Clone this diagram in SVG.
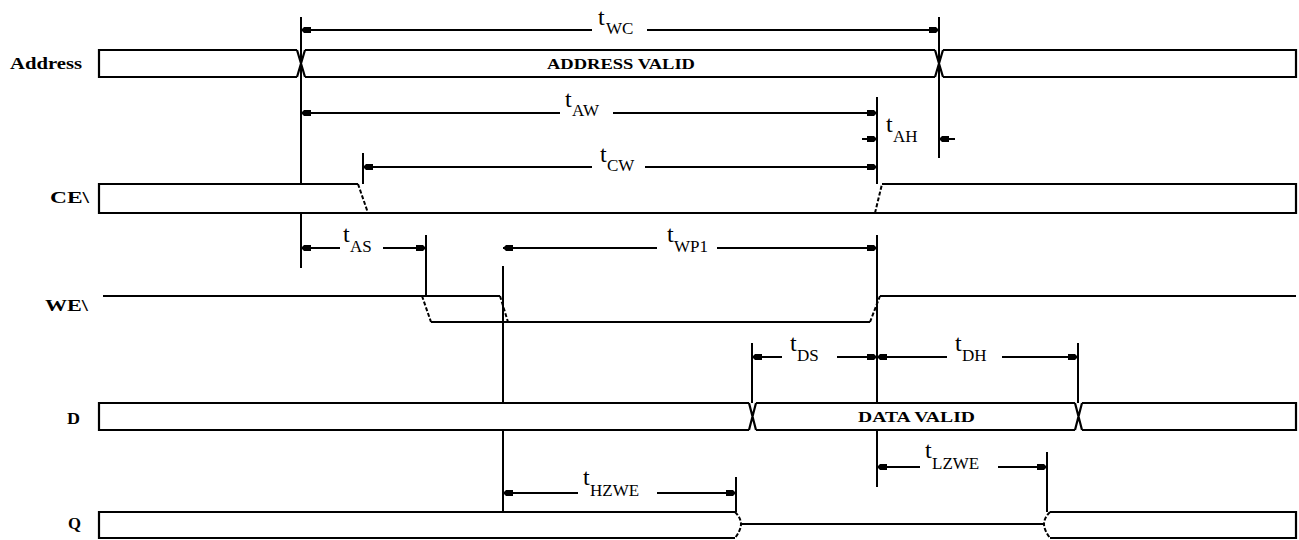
<svg xmlns="http://www.w3.org/2000/svg" width="1299" height="540" viewBox="0 0 1299 540">
<style>
  .ln { stroke:#000; stroke-width:2; fill:none; }
  .dash { stroke:#000; stroke-width:2; fill:none; stroke-dasharray:4 2; }
  .bus { stroke:#000; stroke-width:2.2; fill:none; }
  .sig { font-family:"Liberation Serif", serif; font-weight:bold; font-size:16px; fill:#000; }
  .val { font-family:"Liberation Serif", serif; font-weight:bold; font-size:14px; fill:#000; }
  .t { font-family:"Liberation Serif", serif; font-size:24px; fill:#000; }
  .sub { font-family:"Liberation Serif", serif; font-size:17px; fill:#000; }
</style>
<defs>
  <marker id="ah" viewBox="0 0 10 8" refX="10" refY="4" markerWidth="10" markerHeight="8" markerUnits="userSpaceOnUse" orient="auto-start-reverse">
    <path d="M0,1 L7,1 L10,4 L7,7 L0,7 Z" fill="#000"/>
  </marker>
</defs>
<rect width="1299" height="540" fill="#fff"/>

<!-- signal names -->
<g id="labels">
  <text class="sig" x="10" y="69" textLength="72" lengthAdjust="spacingAndGlyphs">Address</text>
  <text class="sig" x="50" y="203" textLength="39" lengthAdjust="spacingAndGlyphs">CE\</text>
  <text class="sig" x="45" y="311" textLength="43" lengthAdjust="spacingAndGlyphs">WE\</text>
  <text class="sig" x="67" y="424" textLength="13" lengthAdjust="spacingAndGlyphs">D</text>
  <text class="sig" x="68" y="529" textLength="13" lengthAdjust="spacingAndGlyphs">Q</text>
</g>

<!-- reference verticals -->
<g id="connectors">
  <path class="ln" d="M301,17 V184 M301,213 V268"/>
  <path class="ln" d="M939,17 V158"/>
  <path class="ln" d="M877,97 V184 M877,235 V403 M877,430 V487"/>
  <path class="ln" d="M363,153 V184"/>
  <path class="ln" d="M426,235 V296"/>
  <path class="ln" d="M503,266 V403 M503,430 V512"/>
  <path class="ln" d="M752,343 V403"/>
  <path class="ln" d="M1078,343 V403"/>
  <path class="ln" d="M1047,452 V512"/>
  <path class="ln" d="M736,477 V512"/>

  <!-- dimension arrows -->
  <line class="ln" x1="592" y1="30" x2="301" y2="30" marker-end="url(#ah)"/>
  <line class="ln" x1="647" y1="30" x2="939" y2="30" marker-end="url(#ah)"/>

  <line class="ln" x1="560" y1="113" x2="301" y2="113" marker-end="url(#ah)"/>
  <line class="ln" x1="613" y1="113" x2="877" y2="113" marker-end="url(#ah)"/>

  <line class="ln" x1="862" y1="139" x2="877" y2="139" marker-end="url(#ah)"/>
  <line class="ln" x1="955" y1="139" x2="939" y2="139" marker-end="url(#ah)"/>

  <line class="ln" x1="592" y1="167" x2="363" y2="167" marker-end="url(#ah)"/>
  <line class="ln" x1="645" y1="167" x2="877" y2="167" marker-end="url(#ah)"/>

  <line class="ln" x1="340" y1="248" x2="301" y2="248" marker-end="url(#ah)"/>
  <line class="ln" x1="383" y1="248" x2="426" y2="248" marker-end="url(#ah)"/>

  <line class="ln" x1="657" y1="248" x2="503" y2="248" marker-end="url(#ah)"/>
  <line class="ln" x1="717" y1="248" x2="877" y2="248" marker-end="url(#ah)"/>

  <line class="ln" x1="782" y1="357" x2="752" y2="357" marker-end="url(#ah)"/>
  <line class="ln" x1="837" y1="357" x2="877" y2="357" marker-end="url(#ah)"/>

  <line class="ln" x1="947" y1="357" x2="877" y2="357" marker-end="url(#ah)"/>
  <line class="ln" x1="1002" y1="357" x2="1078" y2="357" marker-end="url(#ah)"/>

  <line class="ln" x1="920" y1="467" x2="877" y2="467" marker-end="url(#ah)"/>
  <line class="ln" x1="998" y1="467" x2="1047" y2="467" marker-end="url(#ah)"/>

  <line class="ln" x1="578" y1="493" x2="503" y2="493" marker-end="url(#ah)"/>
  <line class="ln" x1="657" y1="493" x2="736" y2="493" marker-end="url(#ah)"/>
</g>

<!-- timing labels -->
<g id="timing-labels">
  <text class="t" x="598" y="25">t</text><text class="sub" x="606" y="34">WC</text>
  <text class="t" x="565" y="107">t</text><text class="sub" x="572" y="116">AW</text>
  <text class="t" x="886" y="132">t</text><text class="sub" x="893" y="142">AH</text>
  <text class="t" x="600" y="162">t</text><text class="sub" x="607" y="171">CW</text>
  <text class="t" x="343" y="242">t</text><text class="sub" x="350" y="252">AS</text>
  <text class="t" x="667" y="242">t</text><text class="sub" x="674" y="252">WP1</text>
  <text class="t" x="790" y="351">t</text><text class="sub" x="797" y="361">DS</text>
  <text class="t" x="955" y="351">t</text><text class="sub" x="962" y="361">DH</text>
  <text class="t" x="925" y="458">t</text><text class="sub" x="932" y="469">LZWE</text>
  <text class="t" x="583" y="485">t</text><text class="sub" x="590" y="496">HZWE</text>
</g>

<!-- Address bus -->
<g id="address">
  <path class="bus" d="M297,50 H99 V77 H297"/>
  <path class="bus" d="M297,50 L305,77 M297,77 L305,50"/>
  <path class="bus" d="M305,50 H935 M305,77 H935"/>
  <path class="bus" d="M935,50 L943,77 M935,77 L943,50"/>
  <path class="bus" d="M943,50 H1296 V77 H943"/>
  <text class="val" x="547" y="69" textLength="148" lengthAdjust="spacingAndGlyphs">ADDRESS VALID</text>
</g>

<!-- CE\ -->
<g id="ce">
  <path class="bus" d="M358,184 H99 V213 H1296 V184 H882"/>
  <path class="dash" d="M358,184 L368,213"/>
  <path class="dash" d="M875,213 L882,184"/>
</g>

<!-- WE\ -->
<g id="we">
  <path class="bus" d="M103,296 H500"/>
  <path class="dash" d="M422,296 L431,322"/>
  <path class="dash" d="M500,296 L508,322"/>
  <path class="bus" d="M431,322 H870"/>
  <path class="dash" d="M870,322 L880,296"/>
  <path class="bus" d="M880,296 H1296"/>
</g>

<!-- D -->
<g id="d">
  <path class="bus" d="M749,403 H99 V430 H749"/>
  <path class="bus" d="M749,403 L756,430 M749,430 L756,403"/>
  <path class="bus" d="M756,403 H1075 M756,430 H1075"/>
  <path class="bus" d="M1075,403 L1082,430 M1075,430 L1082,403"/>
  <path class="bus" d="M1082,403 H1296 V430 H1082"/>
  <text class="val" x="858" y="422" textLength="117" lengthAdjust="spacingAndGlyphs">DATA VALID</text>
</g>

<!-- Q -->
<g id="q">
  <path class="bus" d="M735,512 H99 V538 H735"/>
  <path class="dash" d="M735,512 Q741,518 741,524 Q741,530 735,538"/>
  <path class="bus" d="M741,524 H1044"/>
  <path class="dash" d="M1050,512 Q1044,518 1044,524 Q1044,530 1050,538"/>
  <path class="bus" d="M1050,512 H1296 V538 H1050"/>
</g>
</svg>
